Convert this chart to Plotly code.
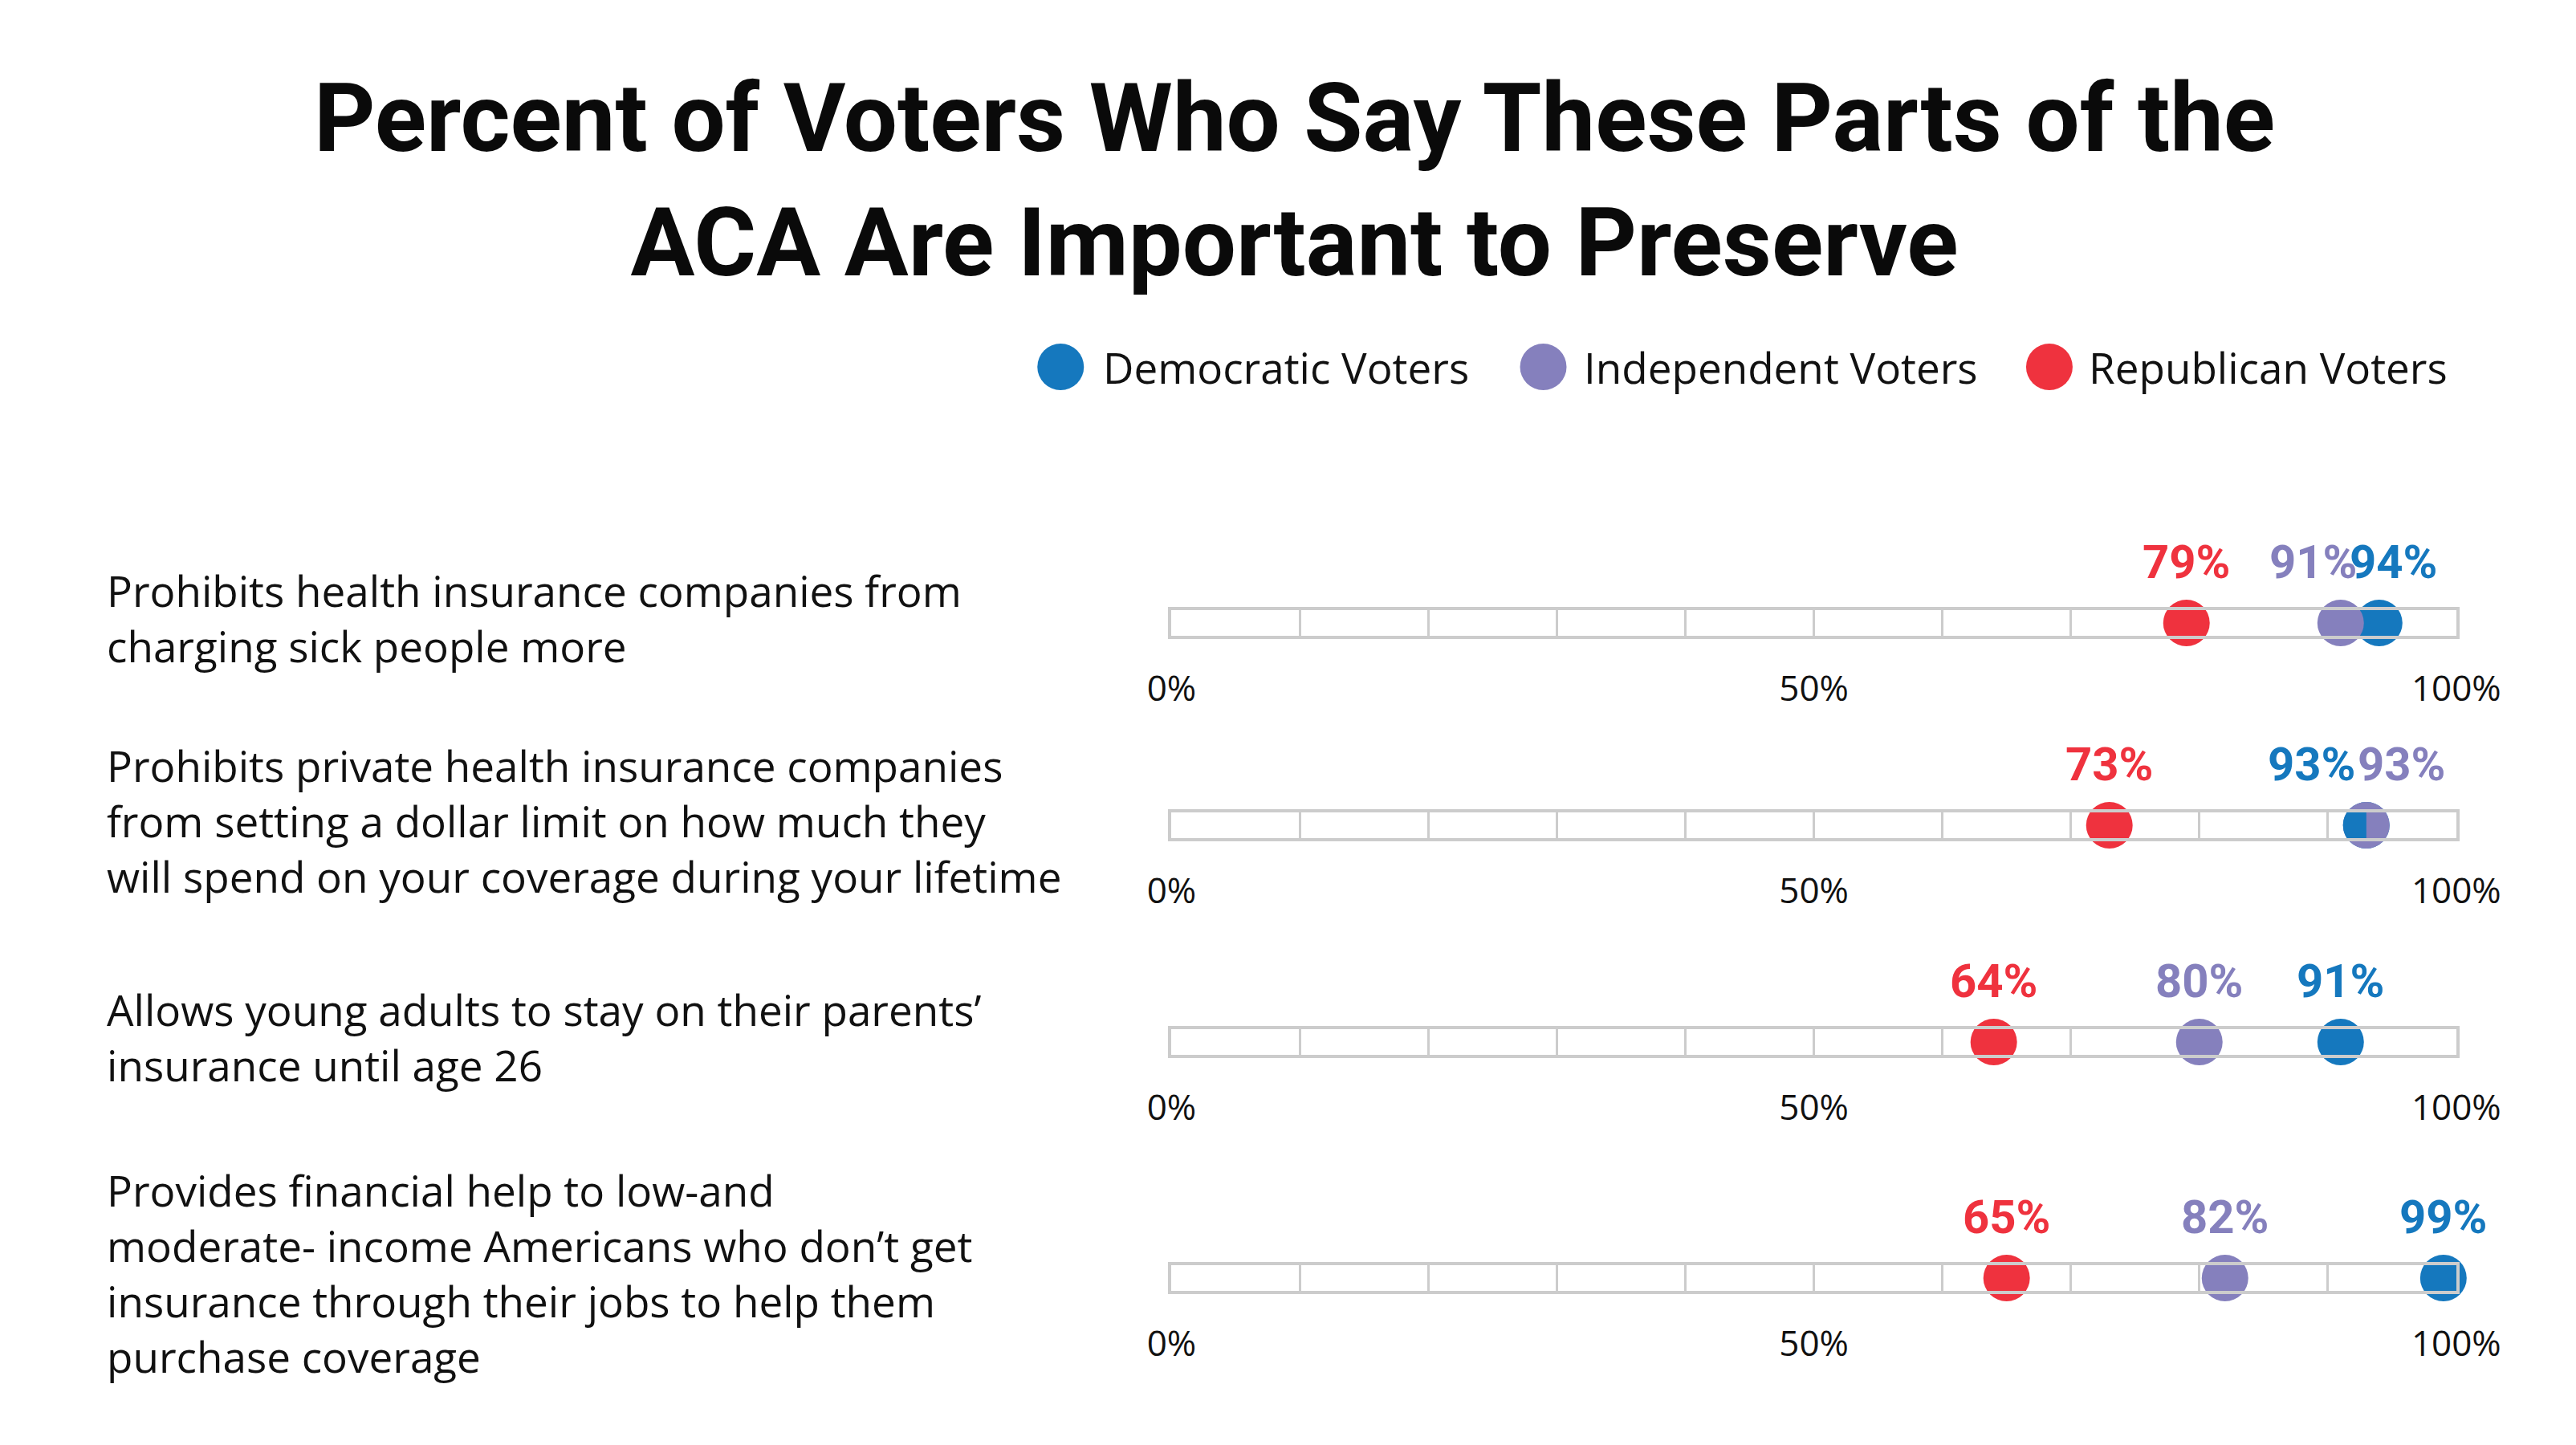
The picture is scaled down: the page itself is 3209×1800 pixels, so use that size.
import plotly.graph_objects as go

W, H = 3209, 1800

# ---------------- data ----------------
categories = [
    "Prohibits health insurance companies from<br>charging sick people more",
    "Prohibits private health insurance companies<br>from setting a dollar limit on how much they<br>will spend on your coverage during your lifetime",
    "Allows young adults to stay on their parents’<br>insurance until age 26",
    "Provides financial help to low-and<br>moderate- income Americans who don’t get<br>insurance through their jobs to help them<br>purchase coverage",
]
series_names = ["Democratic Voters", "Independent Voters", "Republican Voters"]
democratic = [94, 93, 91, 99]
independent = [91, 93, 80, 82]
republican = [79, 73, 64, 65]
tick_values = [0, 10, 20, 30, 40, 50, 60, 70, 80, 90, 100]
tick_labels = ["0%", "", "", "", "", "50%", "", "", "", "", "100%"]
title_text = "Percent of Voters Who Say These Parts of the<br>ACA Are Important to Preserve"

# ---------------- styles ----------------
colors = {"Democratic Voters": "#1578be", "Independent Voters": "#8580bd", "Republican Voters": "#ef323e"}
series_values = {"Democratic Voters": democratic, "Independent Voters": independent, "Republican Voters": republican}
row_centers_px = [768, 1020, 1290, 1584]
label_xshift = {(0, "Democratic Voters"): 18, (0, "Independent Voters"): -34,
                (1, "Democratic Voters"): -68, (1, "Independent Voters"): 44}
x_domain = [1460 / W, 3105 / W]
bar_half_px = 16
marker_size = 58
grey = "#cccccc"
text_font = "Open Sans"
bold_font = "Roboto"

fig = go.Figure()
layout = {}
annotations = []
shapes = []

for i, cat in enumerate(categories):
    n = i + 1
    xa = "x" if n == 1 else f"x{n}"
    ya = "y" if n == 1 else f"y{n}"
    xk = "xaxis" if n == 1 else f"xaxis{n}"
    yk = "yaxis" if n == 1 else f"yaxis{n}"
    yc = row_centers_px[i]
    layout[xk] = dict(
        domain=x_domain, range=[0, 100], anchor=ya,
        tickvals=tick_values, ticktext=tick_labels,
        showgrid=True, gridcolor=grey, gridwidth=3,
        showline=True, linecolor=grey, linewidth=4, mirror=True,
        zeroline=False, ticks="", ticklabelstandoff=24,
        tickfont=dict(family=text_font, size=44, color="#111111"),
        fixedrange=True,
    )
    layout[yk] = dict(
        domain=[1 - (yc + bar_half_px) / H, 1 - (yc - bar_half_px) / H],
        range=[0, 1], anchor=xa,
        showgrid=False, showticklabels=False, zeroline=False,
        showline=True, linecolor=grey, linewidth=4, mirror=True,
        ticks="", fixedrange=True,
    )
    for s in series_names:
        v = series_values[s][i]
        fig.add_trace(go.Scatter(
            x=[v], y=[0.5], xaxis=xa, yaxis=ya, mode="markers",
            marker=dict(size=marker_size, color=colors[s], line=dict(width=0)),
            cliponaxis=False, showlegend=False, name=s,
            hovertemplate=f"{s}: %{{x}}%<extra></extra>",
        ))
        annotations.append(dict(
            x=v, y=0.5, xref=xa, yref=ya, text=f"{v}%", showarrow=False,
            xanchor="center", yanchor="middle", yshift=76,
            xshift=label_xshift.get((i, s), 0),
            font=dict(family=bold_font, size=58, color=colors[s], weight=700),
        ))
    # split marker when Democratic and Independent coincide
    if democratic[i] == independent[i]:
        r = marker_size / 2
        k = 0.5523 * r
        shapes.append(dict(
            type="path", xref=xa, yref=ya, xsizemode="pixel", ysizemode="pixel",
            xanchor=democratic[i], yanchor=0.5, layer="above",
            path=f"M 0,{r} C {-k},{r} {-r},{k} {-r},0 C {-r},{-k} {-k},{-r} 0,{-r} Z",
            fillcolor=colors["Democratic Voters"], line=dict(width=0),
        ))
    # category label
    annotations.append(dict(
        x=95 / W, y=1 - (yc - 6) / H, xref="paper", yref="paper", text=cat,
        showarrow=False, xanchor="left", yanchor="middle", align="left",
        font=dict(family=text_font, size=53, color="#111111"),
    ))

# legend (manual, to get large markers)
legend_marker_px = [1318, 1936, 2584]
legend_text_px = [1370, 1986, 2632]
legend_y = 1 - 449 / H
for s, mx, tx in zip(series_names, legend_marker_px, legend_text_px):
    shapes.append(dict(
        type="circle", xref="paper", yref="paper", xsizemode="pixel", ysizemode="pixel",
        xanchor=mx / W, yanchor=legend_y, x0=-29, x1=29, y0=-29, y1=29,
        fillcolor=colors[s], line=dict(width=0),
    ))
    annotations.append(dict(
        x=tx / W, y=legend_y, xref="paper", yref="paper", text=s, showarrow=False,
        xanchor="left", yanchor="middle",
        font=dict(family=text_font, size=53, color="#111111"),
    ))

fig.update_layout(
    width=W, height=H,
    margin=dict(l=0, r=0, t=0, b=0),
    paper_bgcolor="white", plot_bgcolor="white",
    title=dict(
        text=title_text, x=0.5, xanchor="center",
        y=1 - 180 / H, yanchor="middle", yref="container",
        font=dict(family=bold_font, size=119, color="#0a0a0a", weight=700),
    ),
    annotations=annotations, shapes=shapes,
    showlegend=False,
    **layout,
)

fig.write_html("out.html")
